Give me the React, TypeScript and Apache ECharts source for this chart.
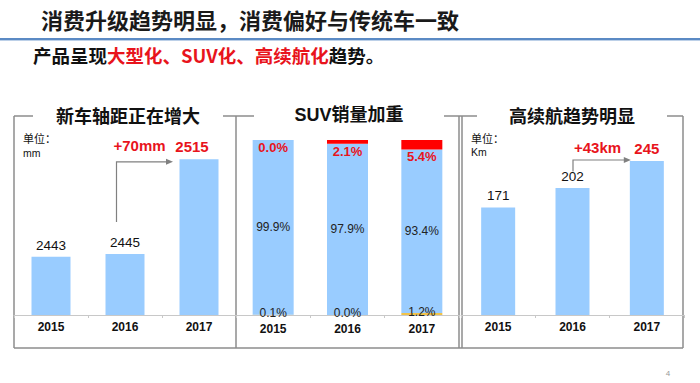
import React, { useEffect, useRef } from "react";
import * as echarts from "echarts";

const years = ["2015", "2016", "2017"];
const wheelbase = [2443, 2445, 2515];
const suvOther = [0.1, 0.0, 1.2];
const suvSedan = [99.9, 97.9, 93.4];
const suvShare = [0.0, 2.1, 5.4];
const rangeKm = [171, 202, 245];
const pageTitle = "消费升级趋势明显，消费偏好与传统车一致";
const subtitleBlack1 = "产品呈现";
const subtitleRed = "大型化、SUV化、高续航化";
const subtitleBlack2 = "趋势。";
const panelTitles = ["新车轴距正在增大", "SUV销量加重", "高续航趋势明显"];
const unitLabel = "单位：";
const units = ["mm", "Km"];
const deltas = ["+70mm", "+43km"];
const pageNo = "4";

const CJK = "'Noto Sans CJK SC', 'Noto Sans', sans-serif";
const NUM = "'Liberation Sans', Arial, 'Noto Sans CJK SC', sans-serif";
const BLUE = "#99ccff";
const RED = "#e8141c";
const FRAME = "#8c8c8c";

function txt(text: string, x: number, y: number, size: number, opts: any = {}) {
  return {
    type: "text",
    x,
    y,
    silent: true,
    z: opts.z ?? 10,
    style: {
      text,
      fill: opts.fill ?? "#111",
      fontSize: size,
      fontWeight: opts.weight ?? "normal",
      fontFamily: opts.family ?? CJK,
      align: opts.align ?? "left",
      textAlign: opts.align ?? "left",
      verticalAlign: "middle",
      textVerticalAlign: "middle",
    },
  };
}

function ln(x1: number, y1: number, x2: number, y2: number, color = FRAME, w = 1.5) {
  return {
    type: "line",
    silent: true,
    shape: { x1, y1, x2, y2 },
    style: { stroke: color, lineWidth: w },
  };
}

const catAxis = (gridIndex: number, margin: number) => ({
  gridIndex,
  type: "category",
  data: years,
  axisLine: { lineStyle: { color: "#c8c8c8", width: 1 } },
  axisTick: { show: true, length: 3, lineStyle: { color: "#c8c8c8" } },
  axisLabel: { color: "#111", fontWeight: "bold", fontSize: 12, margin, fontFamily: NUM },
});

export default function App() {
  const ref = useRef<HTMLDivElement>(null);
  useEffect(() => {
    if (!ref.current) return;
    const chart = echarts.init(ref.current, undefined, { renderer: "svg" });
    const pct = (p: any) => Number(p.value).toFixed(1) + "%";
    chart.setOption({
      animation: false,
      backgroundColor: "#ffffff",
      grid: [
        { left: 14, width: 222, top: 139, height: 176 },
        { left: 236, width: 223, top: 140, height: 175 },
        { left: 461, width: 223, top: 139, height: 176 },
      ],
      xAxis: [catAxis(0, 6), catAxis(1, 8), catAxis(2, 6)],
      yAxis: [
        { gridIndex: 0, type: "value", min: 2400, max: 2530, show: false },
        { gridIndex: 1, type: "value", min: 0, max: 100, show: false },
        { gridIndex: 2, type: "value", min: 0, max: 280, show: false },
      ],
      series: [
        {
          type: "bar",
          xAxisIndex: 0,
          yAxisIndex: 0,
          barWidth: 39,
          itemStyle: { color: BLUE },
          label: { show: true, position: "top", distance: 5, color: "#111", fontSize: 13.5, fontFamily: NUM },
          data: wheelbase.map((v, i) =>
            i === wheelbase.length - 1
              ? { value: v, label: { color: RED, fontWeight: "bold", fontSize: 15, offset: [-7, 0] } }
              : v
          ),
        },
        {
          type: "bar",
          xAxisIndex: 1,
          yAxisIndex: 1,
          stack: "suv",
          barWidth: 41,
          itemStyle: { color: "#f0c24a" },
          label: {
            show: true,
            position: "inside",
            color: "#222",
            fontSize: 12,
            fontFamily: NUM,
            offset: [0, -2],
            formatter: pct,
          },
          data: suvOther,
        },
        {
          type: "bar",
          xAxisIndex: 1,
          yAxisIndex: 1,
          stack: "suv",
          barWidth: 41,
          itemStyle: { color: BLUE },
          label: { show: true, position: "inside", color: "#222", fontSize: 12, fontFamily: NUM, formatter: pct },
          data: suvSedan,
        },
        {
          type: "bar",
          xAxisIndex: 1,
          yAxisIndex: 1,
          stack: "suv",
          barWidth: 41,
          itemStyle: { color: "#ff0000" },
          label: {
            show: true,
            position: "bottom",
            distance: 1,
            color: RED,
            fontWeight: "bold",
            fontSize: 13,
            fontFamily: NUM,
            formatter: pct,
          },
          data: suvShare,
        },
        {
          type: "bar",
          xAxisIndex: 2,
          yAxisIndex: 2,
          barWidth: 34,
          itemStyle: { color: BLUE },
          label: { show: true, position: "top", distance: 5, color: "#111", fontSize: 13.5, fontFamily: NUM },
          data: rangeKm.map((v, i) =>
            i === rangeKm.length - 1
              ? { value: v, label: { color: RED, fontWeight: "bold", fontSize: 15 } }
              : v
          ),
        },
      ],
    });

    const px = (g: number, cat: string, v: number) =>
      chart.convertToPixel({ xAxisIndex: g, yAxisIndex: g }, [cat, v]) as number[];
    const a16 = px(0, years[1], wheelbase[1]);
    const a17 = px(0, years[2], wheelbase[2]);
    const c16 = px(2, years[1], rangeKm[1]);
    const c17 = px(2, years[2], rangeKm[2]);

    const arrow = (pts: number[][]) => {
      const end = pts[pts.length - 1];
      return [
        {
          type: "polyline",
          silent: true,
          shape: { points: pts.slice(0, -1).concat([[end[0] - 5, end[1]]]) },
          style: { stroke: "#808080", lineWidth: 1.2, fill: null },
        },
        {
          type: "polygon",
          silent: true,
          shape: { points: [[end[0], end[1]], [end[0] - 7, end[1] - 3], [end[0] - 7, end[1] + 3]] },
          style: { fill: "#808080" },
        },
      ];
    };

    const graphic: any[] = [
      { type: "rect", silent: true, shape: { x: 0, y: 38, width: 700, height: 2 }, style: { fill: "#5b8ac4" } },
      { type: "rect", silent: true, shape: { x: 0, y: 40, width: 700, height: 1 }, style: { fill: "#bcd0e8" } },
      txt(pageTitle, 41, 19, 22, { weight: "bold", fill: "#1a1a1a" }),
      {
        type: "text",
        x: 33,
        y: 55,
        silent: true,
        style: {
          text: `{a|${subtitleBlack1}}{b|${subtitleRed}}{a|${subtitleBlack2}}`,
          fontSize: 18.5,
          fontWeight: "bold",
          fontFamily: CJK,
          verticalAlign: "middle",
          textVerticalAlign: "middle",
          rich: {
            a: { fill: "#111", color: "#111", fontSize: 18.5, fontWeight: "bold", fontFamily: CJK },
            b: { fill: RED, color: RED, fontSize: 18.5, fontWeight: "bold", fontFamily: CJK },
          },
        },
      },
      // frames
      ln(14, 116, 14, 348),
      ln(14, 116, 33, 116),
      ln(223, 116, 254, 116),
      ln(236, 116, 236, 348),
      ln(444, 116, 477, 116),
      ln(459, 116, 459, 348),
      ln(462, 116, 462, 348),
      ln(667, 116, 683, 116),
      ln(683, 116, 683, 348),
      ln(14, 348, 683, 348),
      txt(panelTitles[0], 128, 115, 18, { weight: "bold", align: "center" }),
      txt(panelTitles[1], 349, 115, 18, { weight: "bold", align: "center", family: NUM }),
      txt(panelTitles[2], 572, 115, 18, { weight: "bold", align: "center" }),
      txt(unitLabel, 23, 138, 11),
      txt(units[0], 23, 153, 10.5, { family: NUM }),
      txt(unitLabel, 471, 138, 11),
      txt(units[1], 471, 152, 10.5, { family: NUM }),
      txt(deltas[0], a16[0] + 14.5, a17[1] - 14, 15, { weight: "bold", align: "center", fill: RED, family: NUM }),
      txt(deltas[1], c16[0] + 25, c17[1] - 14, 15, { weight: "bold", align: "center", fill: RED, family: NUM }),
      ...arrow([
        [a16[0] - 8.5, a16[1] - 32],
        [a16[0] - 8.5, a17[1] + 2.5],
        [a17[0] - 26, a17[1] + 2.5],
      ]),
      ...arrow([
        [c16[0] + 0.5, c16[1] - 16.5],
        [c16[0] + 0.5, c17[1] - 1],
        [c17[0] - 16, c17[1] - 1],
      ]),
      txt(pageNo, 668, 373, 8, { fill: "#999", family: NUM, align: "center" }),
    ];
    chart.setOption({ graphic });
    return () => chart.dispose();
  }, []);
  return (
    <div
      ref={ref}
      style={{ position: "fixed", left: 0, top: 0, width: 700, height: 383, background: "#fff" }}
    />
  );
}
